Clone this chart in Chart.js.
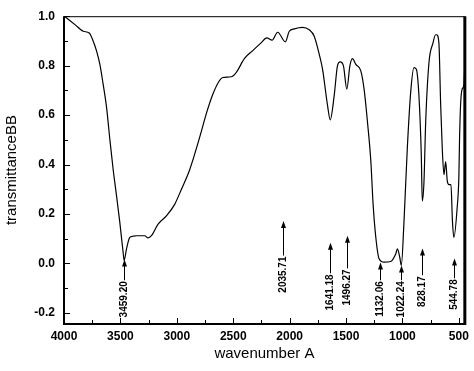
<!DOCTYPE html>
<html>
<head>
<meta charset="utf-8">
<script src="https://cdn.jsdelivr.net/npm/chart.js@4/dist/chart.umd.min.js"></script>
<style>
    html, body { margin: 0; padding: 0; background: #fff; }
    #wrap { width: 474px; height: 371px; }
</style>
</head>
<body>
<div id="wrap"><canvas id="chart"></canvas></div>
<script>
// spectrum (wavenumber, transmittance)
const wavenumbers = [
    3990, 3900, 3829, 3776, 3741, 3711, 3682, 3653, 3623, 3593, 3564, 3534, 3505, 3476, 3467,
    3446, 3417, 3390, 3358, 3284, 3255, 3225, 3166, 3092, 3019, 2960, 2886, 2792, 2739, 2680,
    2627, 2592, 2518, 2474, 2400, 2327, 2253, 2203, 2156, 2106, 2038, 2003, 1958, 1885, 1826,
    1782, 1737, 1708, 1664, 1640, 1605, 1576, 1552, 1523, 1493, 1466, 1443, 1413, 1369, 1340,
    1310, 1280, 1260, 1236, 1207, 1163, 1104, 1059, 1045, 1024, 1010, 986, 957, 927, 898,
    877, 854, 833, 824, 809, 794, 765, 729, 706, 697, 677, 661, 647, 632, 617,
    603, 588, 570, 557, 544, 515, 500, 494, 485, 471, 456, 450,
];
const transmittance = [
    0.998, 0.965, 0.939, 0.932, 0.899, 0.859, 0.805, 0.725, 0.632, 0.499, 0.379, 0.272, 0.165, 0.045, 0.012,
    0.059, 0.105, 0.110, 0.112, 0.112, 0.103, 0.112, 0.159, 0.192, 0.239, 0.299, 0.379, 0.519, 0.605, 0.685,
    0.736, 0.752, 0.755, 0.772, 0.829, 0.861, 0.892, 0.912, 0.903, 0.935, 0.896, 0.939, 0.949, 0.955, 0.945,
    0.919, 0.845, 0.785, 0.639, 0.581, 0.679, 0.799, 0.815, 0.799, 0.705, 0.799, 0.828, 0.805, 0.779, 0.705,
    0.572, 0.412, 0.239, 0.105, 0.019, 0.005, 0.008, 0.039, 0.059, 0.025, -0.008, 0.172, 0.465, 0.692, 0.792,
    0.785, 0.679, 0.439, 0.252, 0.332, 0.572, 0.812, 0.892, 0.925, 0.925, 0.892, 0.639, 0.465, 0.359, 0.412,
    0.335, 0.319, 0.319, 0.172, 0.105, 0.225, 0.350, 0.500, 0.639, 0.705, 0.719, 0.770,
];

// peak marks: label, position, arrow tip and arrow tail (transmittance units)
const peakLabels = ['3459.20', '2035.71', '1641.18', '1496.27', '1132.06', '1022.24', '828.17', '544.78'];
const peakPositions = [3470, 2055, 1640, 1490, 1198, 1013, 827, 544];
const peakTips = [0.016, 0.172, 0.084, 0.112, 0.004, -0.008, 0.060, 0.020];
const peakTails = [-0.068, 0.032, -0.040, -0.020, -0.068, -0.068, -0.048, -0.060];

const xMajorTicks = [4000, 3500, 3000, 2500, 2000, 1500, 1000, 500];
const xMinorTicks = [3750, 3250, 2750, 2250, 1750, 1250, 750];
const yMajorTicks = [-0.2, 0.0, 0.2, 0.4, 0.6, 0.8, 1.0];
const yMinorTicks = [-0.1, 0.1, 0.3, 0.5, 0.7, 0.9];

const FONT = '"Liberation Sans", Arial, sans-serif';

// frame with inward tick marks
const framePlugin = {
    id: 'frame',
    afterDraw(chart) {
        const { ctx, chartArea: a, scales: { x, y } } = chart;
        ctx.save();
        ctx.strokeStyle = '#000';

        ctx.lineWidth = 1;
        ctx.beginPath();
        ctx.moveTo(a.left, a.top + 0.5);
        ctx.lineTo(a.right, a.top + 0.5);
        ctx.stroke();

        ctx.lineWidth = 2;
        ctx.beginPath();
        ctx.moveTo(a.left, a.top);
        ctx.lineTo(a.left, a.bottom);
        ctx.lineTo(a.right, a.bottom);
        ctx.stroke();

        ctx.lineWidth = 3;
        ctx.beginPath();
        ctx.moveTo(a.right, a.top);
        ctx.lineTo(a.right, a.bottom + 1);
        ctx.stroke();

        ctx.lineWidth = 1;
        const xTick = (v, len) => {
            const px = Math.round(x.getPixelForValue(v)) + 0.5;
            ctx.beginPath();
            ctx.moveTo(px, a.bottom);
            ctx.lineTo(px, a.bottom - len);
            ctx.stroke();
        };
        const yTick = (v, len) => {
            const py = Math.round(y.getPixelForValue(v)) + 0.5;
            ctx.beginPath();
            ctx.moveTo(a.left, py);
            ctx.lineTo(a.left + len, py);
            ctx.stroke();
        };
        xMajorTicks.forEach((v) => xTick(v, 6));
        xMinorTicks.forEach((v) => xTick(v, 4));
        yMajorTicks.forEach((v) => yTick(v, 6));
        yMinorTicks.forEach((v) => yTick(v, 4));
        ctx.restore();
    },
};

// arrows with rotated peak labels
const peakPlugin = {
    id: 'peaks',
    afterDatasetsDraw(chart) {
        const { ctx, scales: { x, y } } = chart;
        ctx.save();
        ctx.strokeStyle = '#000';
        ctx.fillStyle = '#000';
        ctx.lineWidth = 1;
        ctx.font = 'bold 10px ' + FONT;

        peakLabels.forEach((label, i) => {
            const px = Math.round(x.getPixelForValue(peakPositions[i])) + 0.5;
            const tip = y.getPixelForValue(peakTips[i]);
            const tail = y.getPixelForValue(peakTails[i]);

            ctx.beginPath();
            ctx.moveTo(px, tail);
            ctx.lineTo(px, tip + 5);
            ctx.stroke();

            ctx.beginPath();
            ctx.moveTo(px, tip);
            ctx.lineTo(px - 2.5, tip + 7);
            ctx.lineTo(px + 2.5, tip + 7);
            ctx.closePath();
            ctx.fill();

            ctx.save();
            ctx.translate(px, tail + 1);
            ctx.rotate(-Math.PI / 2);
            ctx.textAlign = 'right';
            ctx.textBaseline = 'middle';
            ctx.fillText(label, 0, 0);
            ctx.restore();
        });
        ctx.restore();
    },
};

const points = wavenumbers.map((wn, i) => ({ x: wn, y: transmittance[i] }));

new Chart(document.getElementById('chart'), {
    type: 'line',
    data: {
        datasets: [{
            data: points,
            borderColor: '#000',
            borderWidth: 1.2,
            pointRadius: 0,
            cubicInterpolationMode: 'monotone',
            fill: false,
        }],
    },
    options: {
        animation: false,
        responsive: true,
        maintainAspectRatio: false,
        layout: {
            padding: { left: 0, right: 9, top: 13, bottom: 0 },
        },
        plugins: {
            legend: { display: false },
            tooltip: { enabled: false },
        },
        scales: {
            x: {
                type: 'linear',
                reverse: true,
                min: 447,
                max: 4000,
                grid: { display: false, drawTicks: false },
                border: { display: false },
                afterBuildTicks: (scale) => {
                    scale.ticks = xMajorTicks.map((v) => ({ value: v }));
                },
                afterFit: (scale) => {
                    scale.height = 47;
                },
                ticks: {
                    autoSkip: false,
                    maxRotation: 0,
                    padding: 5,
                    color: '#000',
                    font: { family: FONT, size: 12, weight: 'bold' },
                    callback: (v) => String(v),
                },
                title: {
                    display: true,
                    text: 'wavenumber A',
                    color: '#000',
                    font: { family: FONT, size: 15 },
                    padding: { top: 0, bottom: 8 },
                },
            },
            y: {
                min: -0.245,
                max: 1.0,
                grid: { display: false, drawTicks: false },
                border: { display: false },
                afterBuildTicks: (scale) => {
                    scale.ticks = yMajorTicks.map((v) => ({ value: v }));
                },
                afterFit: (scale) => {
                    scale.width = 64;
                },
                ticks: {
                    autoSkip: false,
                    padding: 9,
                    color: '#000',
                    font: { family: FONT, size: 12, weight: 'bold' },
                    callback: (v) => v.toFixed(1),
                },
                title: {
                    display: true,
                    text: 'transmittanceBB',
                    color: '#000',
                    font: { family: FONT, size: 15 },
                    padding: { top: 3, bottom: 0 },
                },
            },
        },
    },
    plugins: [framePlugin, peakPlugin],
});
</script>
</body>
</html>
